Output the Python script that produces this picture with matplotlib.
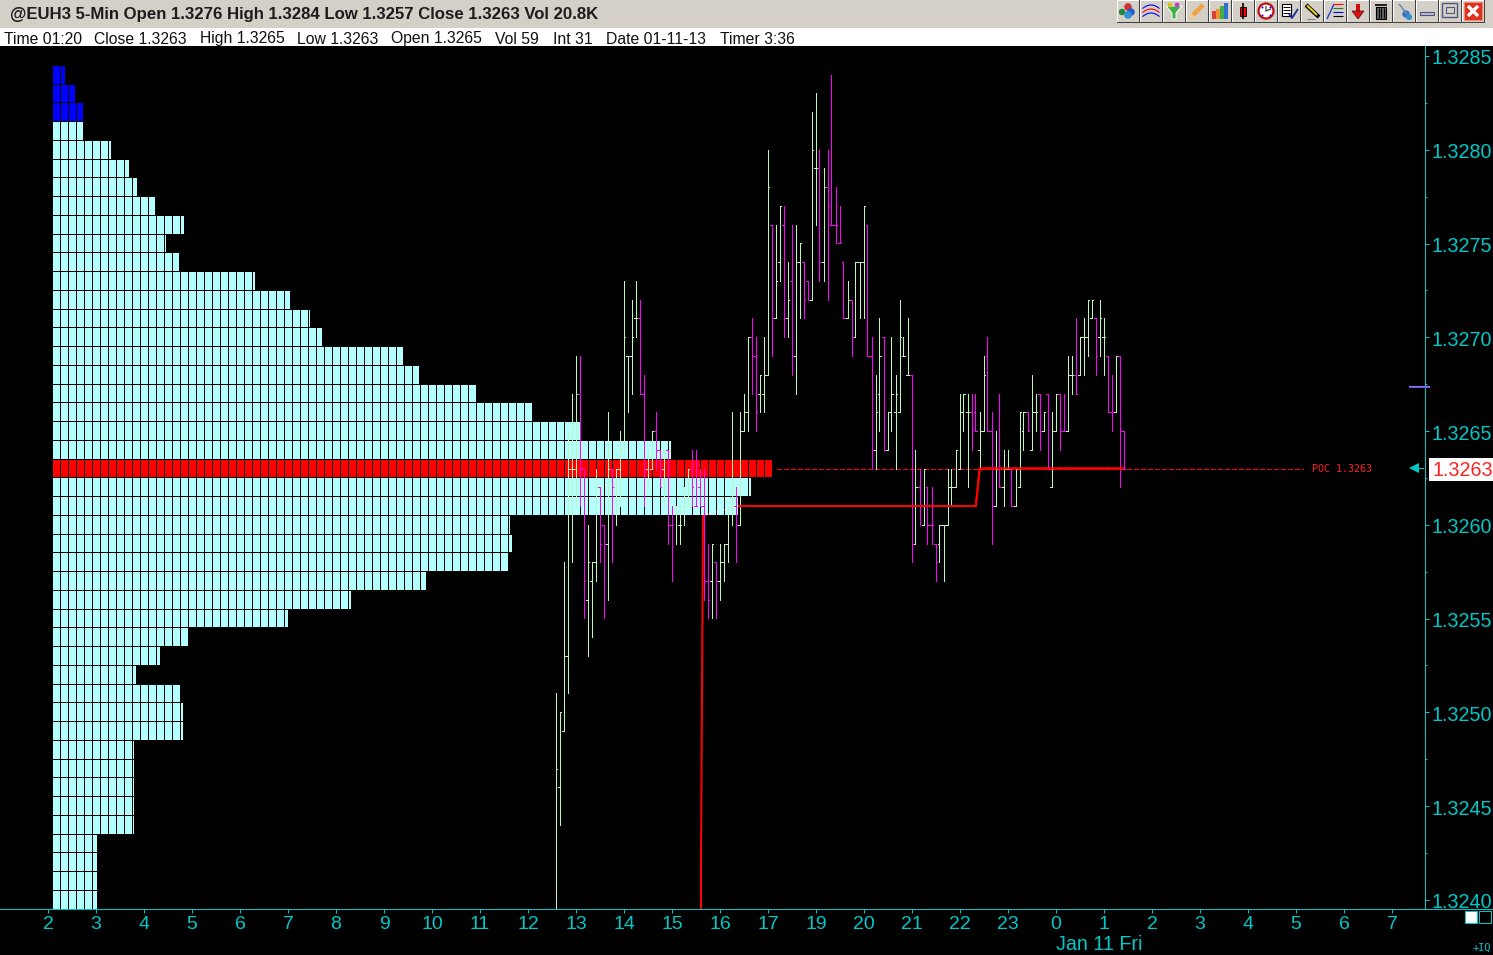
import numpy as np
import matplotlib
matplotlib.use('Agg')
import matplotlib.pyplot as plt
import matplotlib.patches as patches
from matplotlib.transforms import ScaledTranslation

# price levels are stored as ticks above 1.3200 (1 tick = 0.0001)
base_price = 1.32
tick = 0.0001

# volume profile, blocks per price level from the top level down
profile_top = 84
profile_blocks = [1.5, 2.75, 3.75, 3.75, 7.25, 9.5, 10.5, 12.75, 16.4, 14.1, 15.75, 25.25,
                  29.6, 32.1, 33.6, 43.75, 45.75, 52.9, 59.9, 66, 77.25, 89.9, 87.25, 85.6,
                  57.1, 57.4, 56.9, 46.6, 37.25, 29.4, 16.9, 13.4, 10.4, 15.9, 16.25, 16.25,
                  10.1, 10.1, 10.1, 10.1, 10.1, 5.5, 5.5, 5.5, 5.5]
poc_level = 63
blue_from_level = 82

# 5 min bars
highs = [51, 50, 58, 65, 67, 69, 69, 63, 60, 58,
         63, 62, 60, 66, 63, 63, 65, 73, 69, 72,
         73, 72, 68, 64, 65, 66, 64, 64, 64, 61,
         61, 61, 62, 63, 64, 64, 63, 63, 59, 59,
         58, 59, 59, 61, 66, 62, 66, 67, 70, 71,
         70, 68, 70, 80, 76, 76, 77, 77, 74, 76,
         76, 75, 74, 73, 82, 83, 80, 79, 80, 84,
         78, 77, 74, 73, 72, 74, 74, 77, 76, 70,
         68, 71, 70, 66, 70, 68, 72, 70, 71, 68,
         64, 63, 63, 62, 62, 59, 60, 60, 63, 63,
         64, 67, 67, 67, 67, 67, 66, 69, 70, 66,
         65, 67, 64, 64, 63, 63, 66, 66, 66, 68,
         67, 67, 66, 67, 66, 67, 67, 67, 69, 69,
         71, 70, 71, 72, 72, 71, 72, 71, 69, 68,
         69, 69, 65]
lows = [39, 44, 49, 51, 58, 61, 61, 55, 53, 54,
        57, 58, 55, 56, 58, 60, 61, 64, 66, 67,
        70, 67, 61, 62, 63, 63, 62, 61, 59, 57,
        59, 59, 60, 61, 61, 61, 61, 56, 55, 55,
        55, 56, 57, 58, 60, 58, 60, 65, 65, 67,
        65, 66, 66, 68, 69, 71, 73, 70, 70, 68,
        67, 71, 71, 72, 72, 76, 73, 73, 72, 76,
        75, 75, 71, 71, 69, 70, 71, 71, 69, 63,
        63, 65, 64, 64, 65, 63, 66, 69, 68, 58,
        59, 60, 60, 59, 59, 57, 58, 57, 60, 61,
        62, 63, 65, 62, 64, 65, 63, 65, 65, 59,
        61, 62, 61, 63, 61, 61, 62, 64, 65, 64,
        65, 64, 65, 63, 62, 65, 64, 65, 65, 67,
        67, 68, 68, 69, 71, 68, 69, 68, 66, 65,
        66, 62, 63]
opens = [np.nan, 46, 49, 53, 63, 63, 67, 63, 56, 57,
         58, 62, 60, 59, 63, 62, 63, 64, 69, 69,
         71, 71, 67, 63, 63, 65, 64, 63, 64, 60,
         61, 60, 61, 61, 63, 61, 62, 61, 57, 57,
         58, 57, 58, 59, 61, 61, 60, 65, 66, 70,
         69, 67, 67, 68, 76, 71, 74, 76, 71, 73,
         69, 74, 74, 73, 72, 79, 79, 74, 78, 76,
         76, 75, 74, 71, 72, 70, 74, 74, 76, 69,
         64, 67, 70, 64, 66, 66, 66, 69, 68, 68,
         59, 62, 60, 62, 60, 59, 59, 60, 60, 62,
         62, 63, 66, 66, 66, 66, 64, 65, 69, 65,
         61, 63, 62, 63, 63, 61, 62, 65, 66, 64,
         66, 67, 65, 67, 62, 65, 67, 65, 65, 68,
         68, 68, 70, 70, 71, 71, 70, 70, 69, 66,
         66, 69, 65]
closes = [47, 50, 53, 63, 63, 67, 63, 57, 58, 58,
          62, 59, 59, 63, 62, 63, 64, 70, 69, 70,
          71, 67, 63, 64, 65, 64, 62, 64, 60, 60,
          61, 60, 61, 63, 62, 61, 61, 57, 56, 59,
          57, 58, 59, 61, 61, 60, 65, 66, 70, 69,
          66, 68, 68, 78, 71, 73, 77, 71, 72, 69,
          74, 75, 72, 72, 80, 79, 74, 78, 77, 76,
          76, 75, 71, 72, 70, 74, 74, 77, 69, 64,
          66, 69, 64, 66, 67, 67, 70, 69, 68, 59,
          62, 61, 63, 60, 60, 58, 60, 60, 62, 62,
          64, 66, 67, 66, 65, 65, 65, 68, 65, 61,
          63, 62, 63, 63, 61, 63, 66, 66, 65, 66,
          66, 65, 66, 63, 65, 67, 65, 65, 68, 68,
          67, 70, 70, 72, 72, 69, 71, 70, 66, 66,
          69, 65, 63]
bar_dir = ('GGGGGGMMGG' 'GMMGMGGGGG' 'GMMGGMMGMM' 'GGGGMMMMMG' 'MGGGGMGGGM'
           'MGGGMGGMGM' 'GGMMGGMGMM' 'MMMGMGGGMM' 'GGMGGGGGGM' 'GMGMMMGGGG'
           'GGGGMMGGMM' 'GMGGMGGGMG' 'GMGMGGMMGG' 'MGGGGMGGMM' 'GMM')

# point of control path, (hour slot, tick level)
poc_slots = [13.604, 13.604, 13.625, 13.646, 14.396, 19.33, 19.35, 19.37, 19.39, 19.41, 22.396]
poc_ticks = [39, 42, 51, 60.5, 61, 61, 61.5, 62, 62.5, 63, 63]

# x axis labels, 18 is skipped by the session break
hour_labels = [2, 3, 4, 5, 6, 7, 8, 9, 10, 11, 12, 13, 14, 15, 16, 17, 19, 20, 21, 22, 23,
               0, 1, 2, 3, 4, 5, 6, 7]
price_labels = [1.3240, 1.3245, 1.3250, 1.3255, 1.3260, 1.3265, 1.3270, 1.3275, 1.3280, 1.3285]

title_text = '@EUH3 5-Min Open 1.3276 High 1.3284 Low 1.3257 Close 1.3263 Vol 20.8K'
info_labels = ['Time 01:20', 'Close 1.3263', 'High 1.3265', 'Low 1.3263', 'Open 1.3265',
               'Vol 59', 'Int 31', 'Date 01-11-13', 'Timer 3:36']
info_x = [4, 94, 200, 297, 391, 495, 553, 606, 720]

teal = '#00C8C8'
green = '#BDF5BD'
magenta = '#FF00FF'
pale = '#B4FFFF'
px = 0.72  # one pixel in points at dpi 100

plt.rcParams['font.family'] = ['Liberation Sans', 'DejaVu Sans']

W, H = 1493, 955
fig = plt.figure(figsize=(W / 100, H / 100), dpi=100, facecolor='black')

# main chart area
left, right, top, bottom = 0, 1425, 46, 909
ax = fig.add_axes([left / W, 1 - bottom / H, (right - left) / W, (bottom - top) / H], facecolor='black')
ax.set_xlim(-1, 28.6875)
ax.set_ylim(1.3265 - (bottom - 431) / 187500, 1.3265 + (431 - top) / 187500)

levels = base_price + (profile_top - np.arange(len(profile_blocks))) * tick
blocks = np.array(profile_blocks)

# poc path goes under the profile
ax.plot(poc_slots, base_price + np.array(poc_ticks) * tick, color='#FF0000', lw=2 * px, zorder=1.5,
        solid_joinstyle='miter')

# profile is drawn block by block, 8 pixels each
block_w = 8 / 48
profile_x0 = 5 / 48
row_h = 17.6 / 187500
level_ticks = np.round((levels - base_price) / tick)
row_colors = np.where(level_ticks == poc_level, '#FF0000',
                      np.where(level_ticks >= blue_from_level, '#0000FF', pale))
for k in range(int(np.ceil(blocks.max()))):
    mask = blocks > k
    widths = np.minimum(blocks[mask] - k, 7 / 8) * block_w
    ax.barh(levels[mask], widths, height=row_h, left=profile_x0 + k * block_w,
            color=row_colors[mask], linewidth=0, antialiased=False, zorder=2)

# bars
bar_x = (555.5 - 48) / 48 + np.arange(len(highs)) / 12
to_price = lambda a: base_price + np.array(a, dtype=float) * tick
bar_colors = [green if d == 'G' else magenta for d in bar_dir]
ax.vlines(bar_x, to_price(lows), to_price(highs), colors=bar_colors, lw=px, antialiased=False, zorder=3)
tick_len = 1.6 / 48
ax.hlines(to_price(opens), bar_x - tick_len, bar_x, colors=bar_colors, lw=px, antialiased=False, zorder=3)
ax.hlines(to_price(closes), bar_x, bar_x + tick_len, colors=bar_colors, lw=px, antialiased=False, zorder=3)
ax.plot(poc_slots[4:], to_price(poc_ticks[4:]), color='#FF0000', lw=2 * px, zorder=4, solid_joinstyle='miter')

# dashed poc extension and its label
poc_price = base_price + poc_level * tick
ax.plot([(777 - 48) / 48, (1303 - 48) / 48], [poc_price, poc_price], color='#FF0000', lw=1.0,
        dashes=(2.9, 1.8), antialiased=False, zorder=1)
ax.text((1312 - 48) / 48, poc_price, 'POC 1.3263', color='#FF2020', family='DejaVu Sans Mono', fontsize=7.2,
        va='center', ha='left')

# axes
for s in ['top', 'left']:
    ax.spines[s].set_visible(False)
for s in ['bottom', 'right']:
    ax.spines[s].set_color(teal)
    ax.spines[s].set_linewidth(px)
ax.yaxis.tick_right()
ax.set_yticks(price_labels)
ax.set_yticklabels(['%.4f' % p for p in price_labels])
ax.set_yticks([p + 0.00025 for p in price_labels[:-1]], minor=True)
ax.set_xticks(range(len(hour_labels)))
ax.set_xticklabels(hour_labels)
ax.tick_params(axis='both', which='major', colors=teal, width=px, length=2.9, labelsize=14, pad=2)
ax.tick_params(axis='y', which='minor', colors=teal, width=px, length=1.6)
shift = ScaledTranslation(0, -1 / 100, fig.dpi_scale_trans)
for lab in ax.get_yticklabels():
    lab.set_fontsize(14.2)
    lab.set_transform(lab.get_transform() + shift)
ax.text((1056 - 48) / 48, -35 / (bottom - top), 'Jan 11 Fri', color=teal, fontsize=14.2, va='center', ha='left',
        transform=ax.get_xaxis_transform())

# everything around the chart in pixel coordinates
over = fig.add_axes([0, 0, 1, 1], facecolor='none', zorder=5)
over.set_xlim(0, W)
over.set_ylim(H, 0)
over.axis('off')

over.add_patch(patches.Rectangle((0, 0), W, 28, color='#D4D0C8', lw=0))
info_band = patches.Rectangle((0, 28), W, 18, color='white', lw=0)
over.add_patch(info_band)
over.text(10, 19, title_text, color='#1C1C1C', fontsize=12.1, fontweight='bold', va='baseline', ha='left')
for label, x in zip(info_labels, info_x):
    t = over.text(x, 43.5, label, color='#111111', fontsize=11.3, va='baseline', ha='left')
    t.set_clip_path(info_band)

over.plot([1425, W], [909, 909], color=teal, lw=px)
over.add_patch(patches.Rectangle((1465, 911), 12, 12, facecolor='white', edgecolor=teal, lw=px))
over.add_patch(patches.Rectangle((1479, 911), 12, 12, facecolor='black', edgecolor=teal, lw=px))
over.text(1491, 948, '+IQ', color=teal, family='DejaVu Sans Mono', fontsize=7.4, va='center', ha='right')

# last price box and arrows on the scale
over.add_patch(patches.Rectangle((1429, 458), 64, 23, color='white', lw=0))
over.text(1432, 470, '1.3263', color='#FF2020', fontsize=14.2, va='center', ha='left')
over.plot([1412, 1423], [468, 468], color=teal, lw=px)
over.plot([1414], [468], marker='<', color=teal, ms=7, mew=0)
over.plot([1409, 1429], [386, 386], color=teal, lw=px)
over.plot([1409, 1429], [387, 387], color=magenta, lw=px)


# toolbar
def button(x):
    over.add_patch(patches.Rectangle((x, 0), 22, 22, facecolor='#D4D0C8', lw=0))
    over.plot([x, x, x + 22], [22, 0, 0], color='white', lw=px)
    over.plot([x, x + 22, x + 22], [22, 22, 0], color='#404040', lw=px)


def rect(x, y, w, h, c, **kw):
    over.add_patch(patches.Rectangle((x, y), w, h, facecolor=c, lw=kw.get('lw', 0), edgecolor=kw.get('ec', 'none')))


def line(xs, ys, c, lw=1.0):
    over.plot(xs, ys, color=c, lw=lw, solid_capstyle='butt')


btn_x = 1117 + 23 * np.arange(16)
for x in btn_x:
    button(x)

x = btn_x[0]
over.scatter([x + 5, x + 11, x + 14, x + 11], [12, 7, 12, 15], s=[22, 30, 30, 30], c=['#1E8A3A', '#D03030', '#2060D0', '#3090D0'], lw=0)
x = btn_x[1]
for dy, c in [(5, 'blue'), (9, 'red'), (13, 'blue')]:
    xs = np.linspace(x + 3, x + 19, 12)
    over.plot(xs, dy + 0.05 * (xs - x - 11) ** 2, color=c, lw=0.8)
x = btn_x[2]
over.add_patch(patches.Polygon([(x + 3, 6), (x + 19, 6), (x + 13, 13), (x + 13, 19), (x + 9, 19), (x + 9, 13)], facecolor='#3CB043', edgecolor='white', lw=0.7))
over.scatter([x + 7, x + 14], [5, 5], s=12, c=['#E0C020', '#C040C0'], lw=0)
x = btn_x[3]
line([x + 4, x + 17], [18, 5], '#F0A040', 3.2)
line([x + 4, x + 7], [18, 15], '#E8D0A0', 3.2)
x = btn_x[4]
for dx, h, c in [(3, 8, '#E04030'), (7, 10, '#F09030'), (11, 13, '#40B040'), (15, 16, '#3070D0')]:
    rect(x + dx, 19 - h, 3.5, h, c)
x = btn_x[5]
line([x + 11, x + 11], [3, 19], 'black', 1.2)
rect(x + 8, 7, 6, 9, 'red', ec='black', lw=0.6)
x = btn_x[6]
over.add_patch(patches.Circle((x + 11, 11), 7.5, facecolor='white', edgecolor='#C01010', lw=1.6))
line([x + 11, x + 11, x + 16], [6, 11, 9], '#303030', 0.8)
over.scatter([x + 7, x + 15, x + 7, x + 15], [7, 15, 15, 7], s=2, c='blue', lw=0)
x = btn_x[7]
rect(x + 4, 4, 9, 12, 'white', ec='black', lw=0.8)
for dy in [7, 10, 13]:
    line([x + 5, x + 12], [dy, dy], 'black', 0.7)
line([x + 11, x + 14, x + 20], [14, 18, 9], '#1030A0', 1.3)
x = btn_x[8]
line([x + 5, x + 18], [5, 17], 'black', 3.0)
line([x + 6, x + 16], [5.5, 15], '#E8D020', 1.5)
line([x + 6, x + 14], [19, 19], '#808080', 0.7)
x = btn_x[9]
line([x + 3, x + 10], [19, 4], '#2040D0', 1.0)
for dy, c in [(4, 'red'), (8, '#208020'), (12, 'blue'), (16, 'black')]:
    line([x + 9, x + 19], [dy, dy], c, 0.8)
x = btn_x[10]
rect(x + 9, 4, 4, 7, '#D01010')
over.add_patch(patches.Polygon([(x + 5, 11), (x + 17, 11), (x + 11, 19)], facecolor='#E01010', edgecolor='#401010', lw=0.5))
x = btn_x[11]
rect(x + 6, 7, 10, 12, '#606060', ec='black', lw=0.8)
line([x + 5, x + 17], [5, 5], 'black', 1.2)
for dx in [8.5, 11, 13.5]:
    line([x + dx, x + dx], [8, 18], 'black', 0.7)
x = btn_x[12]
line([x + 6, x + 14], [4, 14], '#7090B0', 1.2)
over.scatter([x + 13, x + 16], [14, 17], s=[28, 20], c=['#3070C0', '#3090D0'], lw=0)
x = btn_x[13]
rect(x + 4, 12, 14, 3, '#C0C0D0', ec='#505080', lw=0.8)
x = btn_x[14]
rect(x + 3, 3, 15, 14, '#D4D0C8', ec='#505880', lw=1.0)
rect(x + 7, 7, 8, 6, '#D4D0C8', ec='#505880', lw=0.8)
x = btn_x[15]
rect(x + 2, 2, 18, 18, '#E03020', ec='#F09070', lw=0.6)
line([x + 6, x + 16], [6, 16], 'white', 2.4)
line([x + 6, x + 16], [16, 6], 'white', 2.4)

fig.savefig('out.png', dpi=100, facecolor='black')
